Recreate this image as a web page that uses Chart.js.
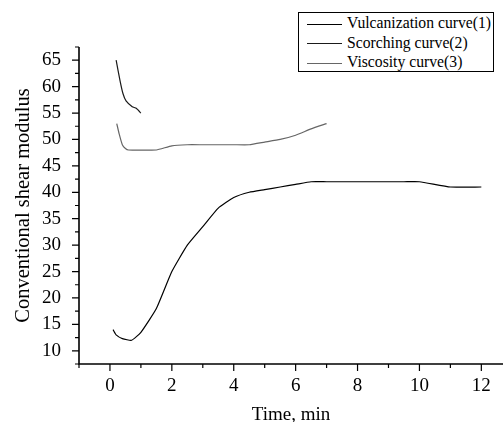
<!DOCTYPE html>
<html>
<head>
<meta charset="utf-8">
<script src="https://cdn.jsdelivr.net/npm/chart.js@4.4.1/dist/chart.umd.min.js"></script>
<style>
  html, body { margin:0; padding:0; background:#fff; overflow:hidden; }
  #wrap { position:relative; width:503px; height:422px; }
  #legend { position:absolute; left:298px; top:12px; width:196px; height:60px;
    border:1px solid #000; box-sizing:border-box; background:#fff;
    font-family:'Liberation Serif','Times New Roman',serif; font-size:15.7px; color:#000; }
  #legend .row { position:absolute; left:8px; height:18px; line-height:18px; white-space:nowrap; }
  #legend .sw { display:inline-block; width:35px; height:0; vertical-align:middle; margin-right:5px; }
</style>
</head>
<body>
<div id="wrap">
  <canvas id="chart" width="503" height="422"></canvas>
  <div id="legend"></div>
</div>
<script>
// vulcanization curve (1)
const tVulc   = [0.1,0.2,0.4,0.7,1,1.5,2,2.5,3,3.5,4,4.5,5,5.5,6,6.5,7,7.5,8,8.5,9,9.5,10,11,12];
const yVulc   = [14,13,12.3,12,13.5,18,25,30,33.5,37,39,40,40.5,41,41.5,42,42,42,42,42,42,42,42,41,41];
// scorching curve (2)
const tScorch = [0.2,0.33,0.42,0.52,0.72,0.85,1.0];
const yScorch = [65,61,58.7,57.3,56.2,55.9,55];
// viscosity curve (3)
const tVisc   = [0.22,0.3,0.4,0.5,0.6,1,1.5,2,2.5,3,3.5,4,4.5,5,5.5,6,6.5,7];
const yVisc   = [53,51,49,48.3,48,48,48,48.8,49,49,49,49,49,49.5,50,50.8,52,53];

const seriesNames  = ['Vulcanization curve(1)','Scorching curve(2)','Viscosity curve(3)'];
const seriesColors = ['#000000','#1a1a1a','#666666'];

const xTicks = [-1,0,1,2,3,4,5,6,7,8,9,10,11,12];
const yTicks = [];
for (let v = 7.5; v <= 67.5; v += 2.5) yTicks.push(v);

const FONT = "'Liberation Serif','Times New Roman',serif";

function pts(xs, ys) { return xs.map((x,i) => ({x:x, y:ys[i]})); }

// axis lines + major/minor ticks
const axesPlugin = {
  id:'axes',
  afterDraw(chart) {
    const c = chart.ctx, a = chart.chartArea;
    const xs = chart.scales.x, ys = chart.scales.y;
    c.save();
    c.strokeStyle = '#000';
    c.lineWidth = 1.6;
    c.beginPath();
    c.moveTo(a.left, a.top); c.lineTo(a.left, a.bottom); c.lineTo(chart.width, a.bottom);
    c.stroke();
    c.lineWidth = 1.2;
    c.beginPath();
    xs.ticks.forEach(t => {
      const px = xs.getPixelForValue(t.value);
      const len = (t.value % 2 === 0) ? 7 : 4;
      c.moveTo(px, a.bottom); c.lineTo(px, a.bottom + len);
    });
    ys.ticks.forEach(t => {
      const py = ys.getPixelForValue(t.value);
      const len = (t.value % 5 === 0) ? 7 : 4;
      c.moveTo(a.left, py); c.lineTo(a.left - len, py);
    });
    c.stroke();
    c.restore();
  }
};

new Chart(document.getElementById('chart'), {
  type:'line',
  data:{
    datasets:[
      { label:seriesNames[0], data:pts(tVulc,yVulc),     borderColor:seriesColors[0] },
      { label:seriesNames[1], data:pts(tScorch,yScorch), borderColor:seriesColors[1] },
      { label:seriesNames[2], data:pts(tVisc,yVisc),     borderColor:seriesColors[2] }
    ]
  },
  options:{
    responsive:false, animation:false,
    layout:{ padding:{ top:47, left:0, right:0, bottom:0 } },
    elements:{ point:{ radius:0 }, line:{ borderWidth:1.2, tension:0.15 } },
    plugins:{ legend:{ display:false }, tooltip:{ enabled:false } },
    scales:{
      x:{
        type:'linear', min:-1, max:12.7,
        afterBuildTicks: s => { s.ticks = xTicks.map(v => ({value:v})); },
        afterFit: s => { s.height = 58; },
        grid:{ display:false }, border:{ display:false },
        ticks:{ padding:3, autoSkip:false, maxRotation:0, color:'#000',
          font:{ family:FONT, size:19 },
          callback: v => (v % 2 === 0 && v >= 0) ? v : '' },
        title:{ display:true, text:'Time, min', color:'#000',
          font:{ family:FONT, size:19 }, padding:{ top:0, bottom:-4 } }
      },
      y:{
        min:7.5, max:67.5,
        afterBuildTicks: s => { s.ticks = yTicks.map(v => ({value:v})); },
        afterFit: s => { s.width = 79; },
        grid:{ display:false }, border:{ display:false },
        ticks:{ padding:10, autoSkip:false, color:'#000',
          font:{ family:FONT, size:19 },
          callback: v => (v % 5 === 0 && v >= 10 && v <= 65) ? v : '' },
        title:{ display:true, text:'Conventional shear modulus', color:'#000',
          font:{ family:FONT, size:20.5 }, padding:{ top:11, bottom:0 } }
      }
    }
  },
  plugins:[axesPlugin]
});

// legend box
const lg = document.getElementById('legend');
seriesNames.forEach((n, i) => {
  const r = document.createElement('div');
  r.className = 'row';
  r.style.top = (1 + i * 19.5) + 'px';
  r.innerHTML = '<span class="sw" style="border-top:1.3px solid ' + seriesColors[i] + '"></span>' + n;
  lg.appendChild(r);
});
</script>
</body>
</html>
